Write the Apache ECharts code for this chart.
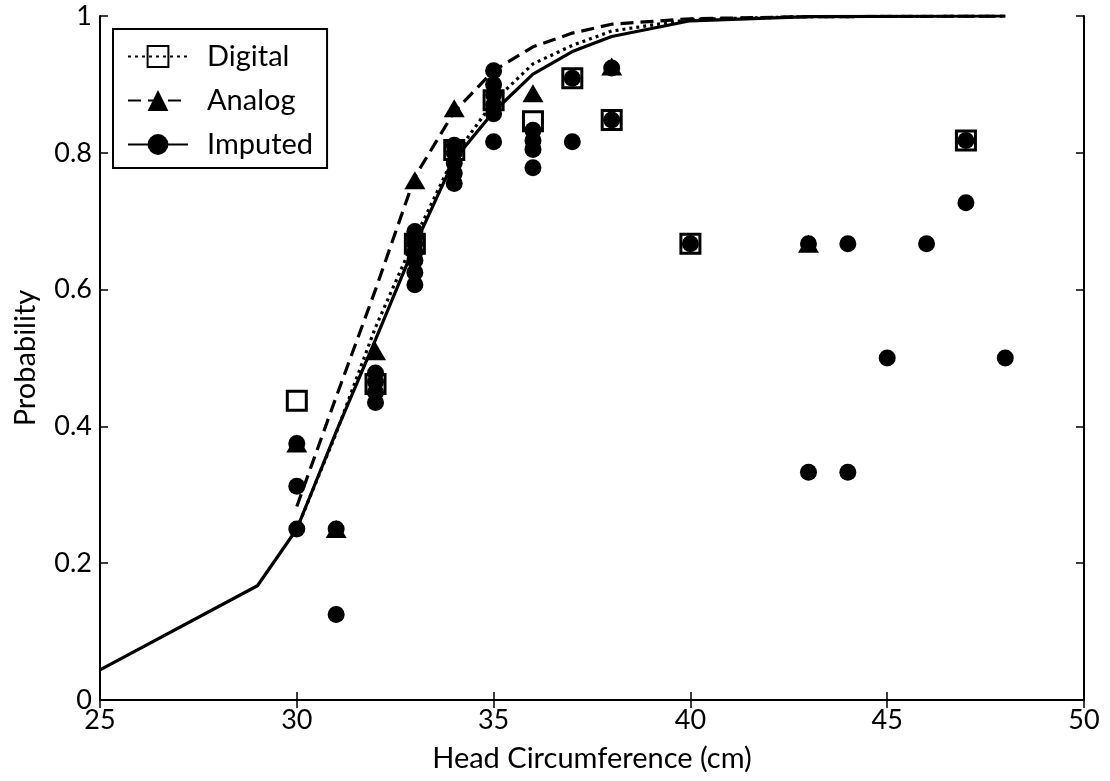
<!DOCTYPE html>
<html>
<head>
<meta charset="utf-8">
<script src="https://cdn.jsdelivr.net/npm/echarts@6/dist/echarts.min.js"></script>
<style>
  html, body { margin: 0; padding: 0; background: #fff; }
  #chart { width: 1110px; height: 781px; }
</style>
</head>
<body>
<div id="chart"></div>
<script>
// fitted curves
var fitX = [30, 31, 32, 33, 34, 35, 36, 37, 38, 40, 43, 48];
var digitalFit = [0.25, 0.39, 0.545, 0.675, 0.795, 0.875, 0.93, 0.957, 0.978, 0.995, 0.999, 1];
var analogFit = [0.283, 0.443, 0.6, 0.765, 0.86, 0.92, 0.955, 0.975, 0.988, 0.996, 0.999, 1];
var imputedFitX = [25, 29, 30, 31, 32, 33, 34, 35, 36, 37, 38, 40, 43, 48];
var imputedFit = [0.044, 0.167, 0.25, 0.392, 0.527, 0.665, 0.79, 0.86, 0.915, 0.948, 0.97, 0.993, 0.999, 1];

// observed points
var digitalX = [30, 32, 33, 34, 35, 36, 37, 38, 40, 47];
var digitalY = [0.4375, 0.462, 0.667, 0.804, 0.877, 0.846, 0.909, 0.848, 0.667, 0.818];
var analogX = [30, 31, 32, 33, 34, 36, 38, 43];
var analogY = [0.375, 0.25, 0.51, 0.76, 0.865, 0.887, 0.926, 0.667];
var imputedX = [30, 30, 30, 31, 31, 32, 32, 32, 32, 33, 33, 33, 33, 33, 33, 33,
	34, 34, 34, 34, 34, 35, 35, 35, 35, 35, 35, 36, 36, 36, 36, 37, 37, 38, 38,
	40, 43, 43, 44, 44, 45, 46, 47, 47, 48];
var imputedY = [0.375, 0.3125, 0.25, 0.25, 0.125, 0.435, 0.45, 0.465, 0.478,
	0.607, 0.625, 0.643, 0.655, 0.667, 0.677, 0.685,
	0.755, 0.77, 0.785, 0.8, 0.811, 0.816, 0.857, 0.87, 0.885, 0.9, 0.92,
	0.778, 0.805, 0.818, 0.833, 0.909, 0.816, 0.924, 0.848,
	0.667, 0.667, 0.333, 0.667, 0.333, 0.5, 0.667, 0.818, 0.727, 0.5];

var xTicks = [25, 30, 35, 40, 45, 50];
var yTicks = [0, 0.2, 0.4, 0.6, 0.8, 1];

function pairs(xs, ys) {
	var out = [];
	for (var i = 0; i < xs.length; i++) out.push([xs[i], ys[i]]);
	return out;
}

var chart = echarts.init(document.getElementById('chart'));
var font = 'Lato, "Open Sans", sans-serif';
var tick = { show: true, inside: true, length: 8, lineStyle: { color: '#000', width: 1.5 } };
var axisLine = { show: true, lineStyle: { color: '#000', width: 2 } };

var option = {
	animation: false,
	backgroundColor: '#fff',
	grid: { left: 100, right: 26, top: 16, bottom: 81 },
	legend: {
		data: ['Digital', 'Analog', 'Imputed'],
		orient: 'vertical',
		left: 113,
		top: 29,
		itemWidth: 60,
		itemHeight: 26,
		itemGap: 15,
		padding: [13, 14, 9, 14],
		backgroundColor: '#fff',
		borderColor: '#000',
		borderWidth: 2,
		borderRadius: 0,
		textStyle: { fontFamily: font, fontSize: 29, color: '#000', padding: [0, 0, 0, 14] }
	},
	xAxis: [
		{
			type: 'value', min: 25, max: 50, interval: 5,
			name: 'Head Circumference (cm)', nameLocation: 'middle', nameGap: 44,
			nameTextStyle: { fontFamily: font, fontSize: 29, color: '#000' },
			axisLine: axisLine, axisTick: tick, splitLine: { show: false },
			axisLabel: { fontFamily: font, fontSize: 27, color: '#000', margin: 7,
				formatter: function (v) { return xTicks.indexOf(v) >= 0 ? String(v) : ''; } }
		},
		{
			type: 'value', position: 'top', min: 25, max: 50, interval: 5,
			axisLine: axisLine, axisTick: tick, splitLine: { show: false },
			axisLabel: { show: false }
		}
	],
	yAxis: [
		{
			type: 'value', min: 0, max: 1, interval: 0.2,
			name: 'Probability', nameLocation: 'middle', nameGap: 60, nameRotate: 90,
			nameTextStyle: { fontFamily: font, fontSize: 29, color: '#000' },
			axisLine: axisLine, axisTick: tick, splitLine: { show: false },
			axisLabel: { fontFamily: font, fontSize: 27, color: '#000', margin: 8,
				formatter: function (v) {
					var t = Math.round(v * 10) / 10;
					return t === 0 ? '0' : (t === 1 ? '1' : t.toFixed(1));
				} }
		},
		{
			type: 'value', position: 'right', min: 0, max: 1, interval: 0.2,
			axisLine: axisLine, axisTick: tick, splitLine: { show: false },
			axisLabel: { show: false }
		}
	],
	series: [
		{
			name: 'Digital', type: 'line', data: pairs(fitX, digitalFit),
			showSymbol: false, symbol: 'rect', symbolSize: 20,
			lineStyle: { color: '#000', width: 3.2, type: [3, 4] },
			itemStyle: { color: 'rgba(255,255,255,0)', borderColor: '#000', borderWidth: 3 }
		},
		{
			name: 'Analog', type: 'line', data: pairs(fitX, analogFit),
			showSymbol: false, symbol: 'triangle', symbolSize: 20,
			lineStyle: { color: '#000', width: 3.2, type: [13, 7] },
			itemStyle: { color: '#000' }
		},
		{
			name: 'Imputed', type: 'line', data: pairs(imputedFitX, imputedFit),
			showSymbol: false, symbol: 'circle', symbolSize: 20,
			lineStyle: { color: '#000', width: 3.2 },
			itemStyle: { color: '#000' }
		},
		{
			name: 'Digital pts', type: 'scatter', data: pairs(digitalX, digitalY),
			symbol: 'rect', symbolSize: 19,
			itemStyle: { color: 'rgba(255,255,255,0)', borderColor: '#000', borderWidth: 3, opacity: 1 }
		},
		{
			name: 'Analog pts', type: 'scatter', data: pairs(analogX, analogY),
			symbol: 'triangle', symbolSize: [21, 18],
			itemStyle: { color: '#000', opacity: 1 }
		},
		{
			name: 'Imputed pts', type: 'scatter', data: pairs(imputedX, imputedY),
			symbol: 'circle', symbolSize: 17,
			itemStyle: { color: '#000', opacity: 1 }
		}
	]
};

chart.setOption(option);
</script>
</body>
</html>
